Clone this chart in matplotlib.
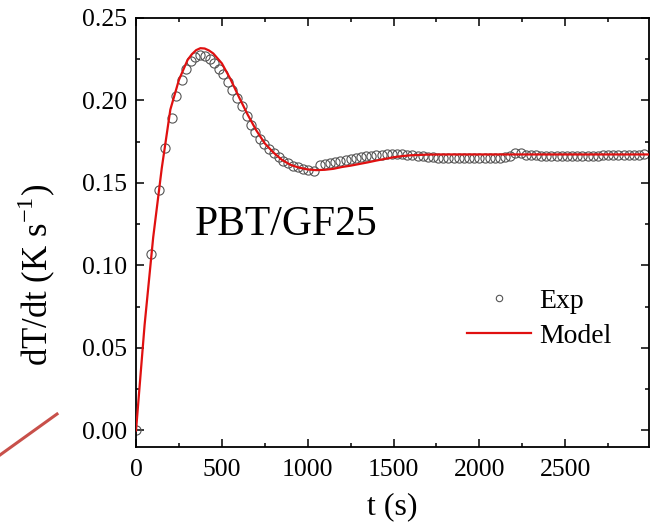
import numpy as np
import matplotlib
matplotlib.use("Agg")
import matplotlib.pyplot as plt
from matplotlib.lines import Line2D
from matplotlib.ticker import MultipleLocator

plt.rcParams['font.family'] = ['Liberation Serif', 'DejaVu Serif']
plt.rcParams['mathtext.fontset'] = 'custom'
plt.rcParams['mathtext.rm'] = 'Liberation Serif'

# experimental points (t in s, dT/dt in K/s)
exp_t_early = [0, 87, 132, 170, 207, 234, 266, 293, 320, 345, 374, 403, 430, 457,
               484, 509, 537, 562, 589, 616, 644, 670, 692, 721, 748, 775, 802,
               830, 857, 886, 915, 944, 973, 1002, 1035, 1070, 1099, 1128, 1157,
               1186, 1221]
exp_y_early = [0.000, 0.107, 0.1455, 0.171, 0.1896, 0.203, 0.2125, 0.219, 0.224,
               0.2266, 0.2278, 0.2272, 0.2254, 0.2226, 0.2193, 0.2159, 0.2114,
               0.2064, 0.2018, 0.1967, 0.1907, 0.1852, 0.1812, 0.1768, 0.1737,
               0.1707, 0.1681, 0.166, 0.1636, 0.162, 0.1604, 0.1594, 0.1584,
               0.1576, 0.1574, 0.1608, 0.1616, 0.1624, 0.1628, 0.1634, 0.164]
exp_t_late = np.arange(1250, 2961, 30)
exp_y_late = [0.1646, 0.1652, 0.1657, 0.1662, 0.1666, 0.1669, 0.1672, 0.1674, 0.1675, 0.1674,
              0.1673, 0.1671, 0.1668, 0.1665, 0.1662, 0.1659, 0.1656, 0.1654, 0.1653, 0.1652,
              0.1652, 0.1651, 0.1651, 0.1651, 0.1651, 0.1651, 0.1651, 0.1652, 0.1652, 0.1653,
              0.1655, 0.1664, 0.1680, 0.1679, 0.1672, 0.1668, 0.1667, 0.1666, 0.1666, 0.1666,
              0.1666, 0.1666, 0.1666, 0.1666, 0.1666, 0.1666, 0.1666, 0.1666, 0.1666, 0.1667,
              0.1667, 0.1667, 0.1667, 0.1667, 0.1668, 0.1668, 0.1669, 0.1676]

# model curve
model_t = [0, 50, 100, 150, 200, 250, 300, 325, 350, 375, 400, 425, 450, 500, 550,
           600, 650, 700, 750, 800, 850, 900, 950, 1000, 1050, 1100, 1150, 1200,
           1250, 1300, 1350, 1400, 1450, 1500, 1550, 1600, 1700, 1800, 2000, 2500, 2988]
model_y = [0.0, 0.064, 0.117, 0.159, 0.1945, 0.2125, 0.2245, 0.2280, 0.2305, 0.2317,
           0.2315, 0.2303, 0.2285, 0.2225, 0.2130, 0.2020, 0.1915, 0.1820, 0.1740,
           0.1685, 0.1640, 0.1610, 0.1593, 0.1582, 0.1578, 0.1580, 0.1586, 0.1597,
           0.1605, 0.1615, 0.1625, 0.1636, 0.1646, 0.1656, 0.1663, 0.1668, 0.1672,
           0.1673, 0.1673, 0.1673, 0.1673]

exp_t = list(exp_t_early) + list(exp_t_late)
exp_y = exp_y_early + exp_y_late

fig = plt.figure(figsize=(6.59, 5.26), dpi=100)
ax = fig.add_axes([0.2064, 0.1502, 0.7784, 0.8156])

ax.plot(exp_t, exp_y, linestyle='none', marker='o', markersize=6.6,
        markerfacecolor='none', markeredgecolor='#555555', markeredgewidth=0.8,
        label='Exp', zorder=2)
ax.plot(model_t, model_y, color='#e01010', linewidth=1.6, label='Model', zorder=3)

ax.set_xlim(0, 2988)
ax.set_ylim(-0.01, 0.25)
ax.xaxis.set_major_locator(MultipleLocator(500))
ax.xaxis.set_minor_locator(MultipleLocator(250))
ax.yaxis.set_major_locator(MultipleLocator(0.05))
ax.yaxis.set_minor_locator(MultipleLocator(0.025))
ax.yaxis.set_major_formatter(plt.FormatStrFormatter('%.2f'))

ax.tick_params(which='both', direction='in', top=True, right=True, labelsize=18.5)
ax.tick_params(which='major', length=6, width=1.1)
ax.tick_params(which='minor', length=3, width=1.1)
ax.tick_params(axis='y', pad=6.5)
ax.tick_params(axis='x', pad=9)
for sp in ax.spines.values():
    sp.set_linewidth(1.3)

ax.set_xlabel('t (s)', fontsize=23)
ax.xaxis.set_label_coords(0.5, -0.105)
ax.set_ylabel(r'dT/dt (K s$^{\mathregular{-1}}$)', fontsize=25)
ax.yaxis.set_label_coords(-0.152, 0.40)

ax.text(344, 0.1187, 'PBT/GF25', fontsize=30, ha='left', va='baseline')

ax.legend(loc='upper left', bbox_to_anchor=(0.645, 0.37), frameon=False,
          fontsize=20, handlelength=2.3, handletextpad=0.3, borderpad=0,
          borderaxespad=0, labelspacing=0.35, markerscale=0.7)

# stray red stroke at lower left of the original figure
fig.add_artist(Line2D([0.0, 0.0865], [0.135, 0.2129], transform=fig.transFigure,
                      color='#c8504a', linewidth=2.2))

plt.savefig('out.png', dpi=100)
